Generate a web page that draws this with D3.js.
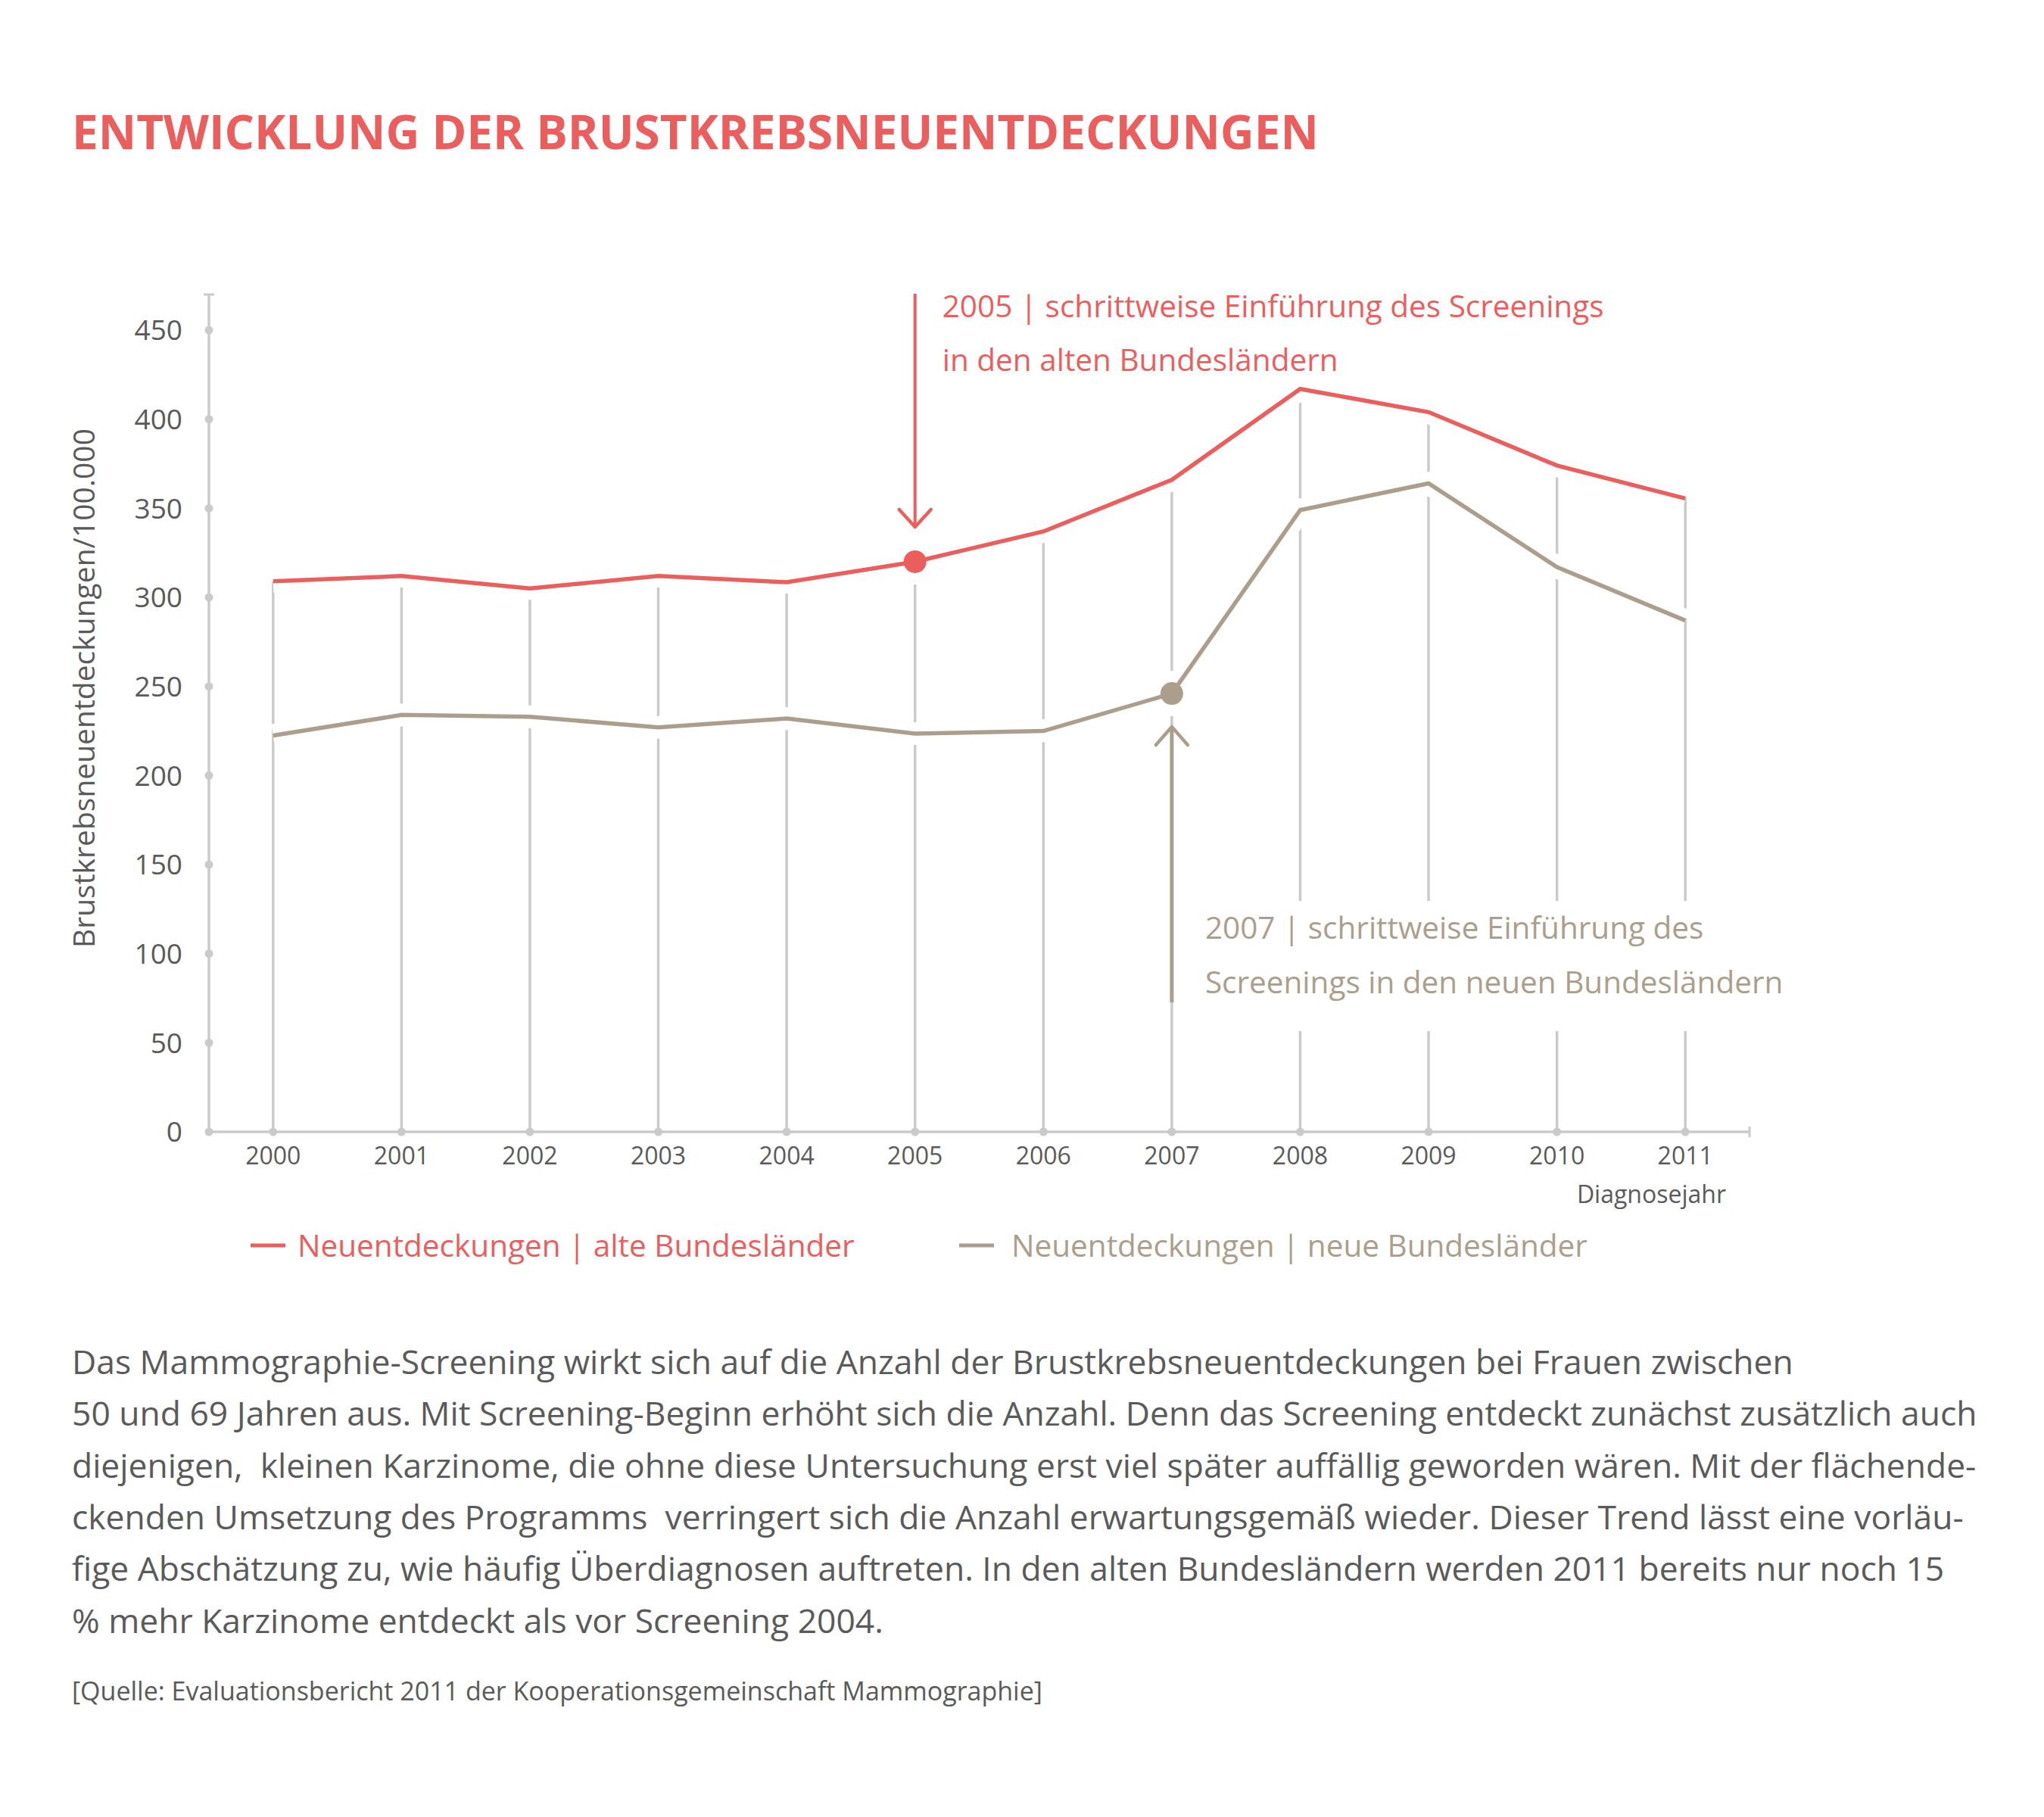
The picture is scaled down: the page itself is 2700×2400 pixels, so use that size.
<!DOCTYPE html>
<html>
  <head>
    <meta charset="utf-8">
    <title>Entwicklung der Brustkrebsneuentdeckungen</title>
    <script src="https://cdn.jsdelivr.net/npm/d3@7"></script>
  </head>

  <style>
    body {
      margin: 0;
      background: #FFFFFF;
    }
    text {
      font-family: "Open Sans", Arial, sans-serif;
    }
  </style>

  <body>
    <script>

      // --- data ---
      var years = [2000, 2001, 2002, 2003, 2004, 2005, 2006, 2007, 2008, 2009, 2010, 2011];
      var alteLaender = [309, 312, 305, 312, 308.5, 320, 337, 366, 417, 404, 374, 355.5];
      var neueLaender = [222.5, 234, 233, 227, 232, 223.5, 225, 246, 349, 364, 317, 287];
      var yTicks = [0, 50, 100, 150, 200, 250, 300, 350, 400, 450];

      var seriesNames = ["Neuentdeckungen | alte Bundesländer", "Neuentdeckungen | neue Bundesländer"];
      var note2005 = ["2005 | schrittweise Einführung des Screenings", "in den alten Bundesländern"];
      var note2007 = ["2007 | schrittweise Einführung des", "Screenings in den neuen Bundesländern"];
      var paragraph = [
        "Das Mammographie-Screening wirkt sich auf die Anzahl der Brustkrebsneuentdeckungen bei Frauen zwischen",
        "50 und 69 Jahren aus. Mit Screening-Beginn erhöht sich die Anzahl. Denn das Screening entdeckt zunächst zusätzlich auch",
        "diejenigen,  kleinen Karzinome, die ohne diese Untersuchung erst viel später auffällig geworden wären. Mit der flächende-",
        "ckenden Umsetzung des Programms  verringert sich die Anzahl erwartungsgemäß wieder. Dieser Trend lässt eine vorläu-",
        "fige Abschätzung zu, wie häufig Überdiagnosen auftreten. In den alten Bundesländern werden 2011 bereits nur noch 15",
        "% mehr Karzinome entdeckt als vor Screening 2004."
      ];
      var source = "[Quelle: Evaluationsbericht 2011 der Kooperationsgemeinschaft Mammographie]";

      var red = "#EB5E5E",
        taupe = "#AC9E8C",
        grey = "#CACACA",
        ink = "#5A5A5A";

      var width = 2700,
        height = 2400;

      var svg = d3.select("body")
        .append("svg")
        .attr("width", width)
        .attr("height", height)
        .style("display", "block");

      var x = d3.scalePoint()
        .domain(years)
        .range([276, 2311])
        .padding(0.5);

      var y = d3.scaleLinear()
        .domain([0, 470])
        .range([1495, 389]);

      // title
      svg.append("text")
        .attr("x", 95)
        .attr("y", 197)
        .attr("fill", red)
        .style("font-size", "62px")
        .style("font-weight", 700)
        .text("ENTWICKLUNG DER BRUSTKREBSNEUENTDECKUNGEN");

      // grey drop lines, one per year
      svg.append("g")
        .selectAll("line")
        .data(years)
        .enter()
        .append("line")
        .attr("x1", d => x(d))
        .attr("x2", d => x(d))
        .attr("y1", y(0))
        .attr("y2", (d, i) => y(alteLaender[i]))
        .attr("stroke", grey)
        .attr("stroke-width", 3.5);

      // white box behind the 2007 note
      svg.append("rect")
        .attr("x", x(2007) + 30)
        .attr("y", 1190)
        .attr("width", 860)
        .attr("height", 172)
        .attr("fill", "#FFFFFF");

      var line = d3.line()
        .x((d, i) => x(years[i]))
        .y(d => y(d));

      // white halo so the drop lines stop short of the data lines
      [alteLaender, neueLaender].forEach(s => {
        svg.append("path")
          .attr("d", line(s))
          .attr("fill", "none")
          .attr("stroke", "#FFFFFF")
          .attr("stroke-width", 30);
      });
      svg.append("circle")
        .attr("cx", x(2005)).attr("cy", y(alteLaender[5])).attr("r", 30).attr("fill", "#FFFFFF");
      svg.append("circle")
        .attr("cx", x(2007)).attr("cy", y(neueLaender[7])).attr("r", 30).attr("fill", "#FFFFFF");

      // axes
      var x0 = 276, xEnd = 2311;
      svg.append("line")
        .attr("x1", x0).attr("x2", x0)
        .attr("y1", y(0)).attr("y2", y(470))
        .attr("stroke", grey).attr("stroke-width", 3.5);
      svg.append("line")
        .attr("x1", x0 - 7).attr("x2", x0 + 7)
        .attr("y1", y(470)).attr("y2", y(470))
        .attr("stroke", grey).attr("stroke-width", 3);
      svg.append("line")
        .attr("x1", x0).attr("x2", xEnd)
        .attr("y1", y(0)).attr("y2", y(0))
        .attr("stroke", grey).attr("stroke-width", 3.5);
      svg.append("line")
        .attr("x1", xEnd).attr("x2", xEnd)
        .attr("y1", y(0) - 7).attr("y2", y(0) + 7)
        .attr("stroke", grey).attr("stroke-width", 3);

      svg.append("g")
        .selectAll("circle")
        .data(yTicks)
        .enter()
        .append("circle")
        .attr("cx", x0)
        .attr("cy", d => y(d))
        .attr("r", 5.5)
        .attr("fill", grey);

      svg.append("g")
        .selectAll("text")
        .data(yTicks)
        .enter()
        .append("text")
        .attr("x", 241)
        .attr("y", d => y(d))
        .attr("dy", "0.36em")
        .attr("text-anchor", "end")
        .attr("fill", ink)
        .style("font-size", "37px")
        .text(d => d);

      svg.append("g")
        .selectAll("circle")
        .data(years)
        .enter()
        .append("circle")
        .attr("cx", d => x(d))
        .attr("cy", y(0))
        .attr("r", 5.5)
        .attr("fill", grey);

      svg.append("g")
        .selectAll("text")
        .data(years)
        .enter()
        .append("text")
        .attr("x", d => x(d))
        .attr("y", 1538)
        .attr("text-anchor", "middle")
        .attr("fill", ink)
        .style("font-size", "32px")
        .text(d => d);

      svg.append("text")
        .attr("x", 2280)
        .attr("y", 1589)
        .attr("text-anchor", "end")
        .attr("fill", ink)
        .style("font-size", "32px")
        .text("Diagnosejahr");

      svg.append("text")
        .attr("transform", "translate(125,909) rotate(-90)")
        .attr("text-anchor", "middle")
        .attr("fill", ink)
        .style("font-size", "39px")
        .text("Brustkrebsneuentdeckungen/100.000");

      // data lines
      svg.append("path")
        .attr("d", line(neueLaender))
        .attr("fill", "none")
        .attr("stroke", taupe)
        .attr("stroke-width", 5.5)
        .attr("stroke-linejoin", "miter");
      svg.append("path")
        .attr("d", line(alteLaender))
        .attr("fill", "none")
        .attr("stroke", red)
        .attr("stroke-width", 5.5)
        .attr("stroke-linejoin", "miter");

      svg.append("circle")
        .attr("cx", x(2005)).attr("cy", y(alteLaender[5])).attr("r", 15).attr("fill", red);
      svg.append("circle")
        .attr("cx", x(2007)).attr("cy", y(neueLaender[7])).attr("r", 15).attr("fill", taupe);

      // 2005 arrow (pointing down)
      var ax = x(2005), aTop = 388, aTip = 696;
      svg.append("line")
        .attr("x1", ax).attr("x2", ax).attr("y1", aTop).attr("y2", aTip)
        .attr("stroke", red).attr("stroke-width", 4);
      svg.append("path")
        .attr("d", "M" + (ax - 21) + "," + (aTip - 23) + "L" + ax + "," + aTip + "L" + (ax + 21) + "," + (aTip - 23))
        .attr("fill", "none").attr("stroke", red).attr("stroke-width", 4.5)
        .attr("stroke-linecap", "round").attr("stroke-linejoin", "round");

      svg.append("g")
        .selectAll("text")
        .data(note2005)
        .enter()
        .append("text")
        .attr("x", ax + 36)
        .attr("y", (d, i) => 419 + i * 71)
        .attr("fill", red)
        .style("font-size", "40.5px")
        .text(d => d);

      // 2007 arrow (pointing up)
      var bx = x(2007), bTip = 960, bBottom = 1324;
      svg.append("line")
        .attr("x1", bx).attr("x2", bx).attr("y1", bTip).attr("y2", bBottom)
        .attr("stroke", taupe).attr("stroke-width", 5);
      svg.append("path")
        .attr("d", "M" + (bx - 21) + "," + (bTip + 24) + "L" + bx + "," + bTip + "L" + (bx + 21) + "," + (bTip + 24))
        .attr("fill", "none").attr("stroke", taupe).attr("stroke-width", 4.5)
        .attr("stroke-linecap", "round").attr("stroke-linejoin", "round");

      svg.append("g")
        .selectAll("text")
        .data(note2007)
        .enter()
        .append("text")
        .attr("x", bx + 44)
        .attr("y", (d, i) => 1240 + i * 72)
        .attr("fill", taupe)
        .style("font-size", "40.5px")
        .text(d => d);

      // legend
      var legend = svg.append("g")
        .selectAll("g")
        .data(seriesNames)
        .enter()
        .append("g")
        .attr("transform", (d, i) => "translate(" + (i === 0 ? 331 : 1267) + ",1645)");
      legend.append("line")
        .attr("x1", 0).attr("x2", 46)
        .attr("stroke", (d, i) => i === 0 ? red : taupe)
        .attr("stroke-width", 5);
      legend.append("text")
        .attr("x", (d, i) => i === 0 ? 62 : 69)
        .attr("dy", "0.36em")
        .attr("fill", (d, i) => i === 0 ? red : taupe)
        .style("font-size", "40.5px")
        .text(d => d);

      // explanatory paragraph
      svg.append("g")
        .selectAll("text")
        .data(paragraph)
        .enter()
        .append("text")
        .attr("x", 95)
        .attr("y", (d, i) => 1815 + i * 68.3)
        .attr("fill", ink)
        .style("font-size", "44.4px")
        .style("white-space", "pre")
        .text(d => d);

      svg.append("text")
        .attr("x", 95)
        .attr("y", 2246)
        .attr("fill", ink)
        .style("font-size", "34px")
        .text(source);

    </script>
  </body>
</html>
